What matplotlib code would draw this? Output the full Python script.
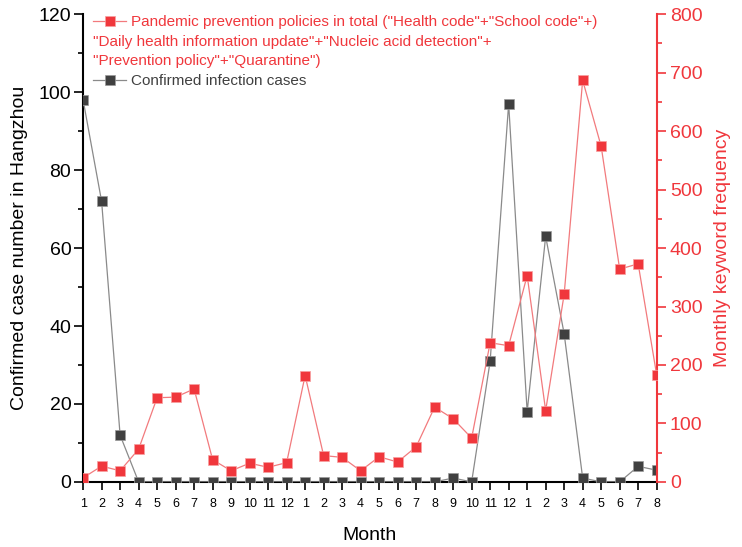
import matplotlib.pyplot as plt
from matplotlib.ticker import MultipleLocator

plt.rcParams['font.family'] = ['Liberation Sans', 'DejaVu Sans']

# === data ===
months = [1, 2, 3, 4, 5, 6, 7, 8, 9, 10, 11, 12,
          1, 2, 3, 4, 5, 6, 7, 8, 9, 10, 11, 12,
          1, 2, 3, 4, 5, 6, 7, 8]
policy_freq = [7, 27, 19, 56, 144, 145, 159, 38, 19, 32, 25, 33,
               182, 45, 42, 19, 43, 34, 60, 128, 108, 75, 238, 233,
               353, 122, 321, 687, 574, 364, 373, 183]
confirmed = [98, 72, 12, 0, 0, 0, 0, 0, 0, 0, 0, 0,
             0, 0, 0, 0, 0, 0, 0, 0, 1, 0, 31, 97,
             18, 63, 38, 1, 0, 0, 4, 3]

policy_label = ['Pandemic prevention policies in total ("Health code"+"School code"+)',
                '"Daily health information update"+"Nucleic acid detection"+',
                '"Prevention policy"+"Quarantine")']
confirmed_label = "Confirmed infection cases"

RED = "#f0373c"
RED_LINE = "#f27a7d"
DARK = "#404040"
GRAY_LINE = "#8a8a8a"

x = list(range(len(months)))

fig = plt.figure(figsize=(7.42, 5.47), dpi=100)
ax = fig.add_axes([0.112, 0.119, 0.773, 0.855])
ax2 = ax.twinx()

l1, = ax.plot(x, confirmed, color=GRAY_LINE, lw=0.9, marker="s", ms=6.8,
              mfc=DARK, mec="#9a9a9a", mew=0.5, zorder=3)
l2, = ax2.plot(x, policy_freq, color=RED_LINE, lw=0.9, marker="s", ms=6.8,
               mfc=RED, mec="#f7a0a0", mew=0.5, zorder=3)

ax.set_xlim(0, len(x) - 1)
ax.set_ylim(0, 120)
ax2.set_ylim(0, 800)

ax.set_xticks(x)
ax.set_xticklabels([str(m) for m in months], fontsize=9)
ax.yaxis.set_major_locator(MultipleLocator(20))
ax.yaxis.set_minor_locator(MultipleLocator(10))
ax2.yaxis.set_major_locator(MultipleLocator(100))
ax2.yaxis.set_minor_locator(MultipleLocator(50))

ax.tick_params(axis="y", labelsize=14, length=6.5, width=1.2, pad=2)
ax.tick_params(axis="y", which="minor", length=3.5, width=1.2)
ax.tick_params(axis="x", length=5.5, width=1.2, pad=6)
ax2.tick_params(axis="y", labelsize=14, length=6.5, width=1.2, pad=3,
                colors=RED)
ax2.tick_params(axis="y", which="minor", length=3.5, width=1.2, colors=RED)

for a in (ax, ax2):
    a.spines["top"].set_visible(False)
ax.spines["left"].set_linewidth(1.5)
ax.spines["bottom"].set_linewidth(1.5)
ax.spines["right"].set_visible(False)
ax2.spines["left"].set_visible(False)
ax2.spines["bottom"].set_visible(False)
ax2.spines["right"].set_color(RED)
ax2.spines["right"].set_linewidth(1.5)

ax.set_xlabel("Month", fontsize=14, labelpad=12)
ax.set_ylabel("Confirmed case number in Hangzhou", fontsize=14, labelpad=8)
ax2.set_ylabel("Monthly keyword frequency", fontsize=14, color=RED, labelpad=8)

# === legend: handle sits on the first line, wrapped lines start under the handle ===
leg_kw = dict(fontsize=11, frameon=False, borderpad=0, borderaxespad=0,
              handlelength=2.2, handletextpad=0.3, loc="center left")
leg1 = ax2.legend([l2], [policy_label[0]], bbox_to_anchor=(0.017, 0.983), **leg_kw)
leg1.get_texts()[0].set_color(RED)
ax2.add_artist(leg1)
for i, line in enumerate(policy_label[1:]):
    ax2.text(0.017, 0.940 - 0.041 * i, line, transform=ax2.transAxes,
             fontsize=11, color=RED, va="center", ha="left")
leg2 = ax2.legend([l1], [confirmed_label], bbox_to_anchor=(0.017, 0.857), **leg_kw)
leg2.get_texts()[0].set_color(DARK)

fig.savefig("out.png", dpi=100)
